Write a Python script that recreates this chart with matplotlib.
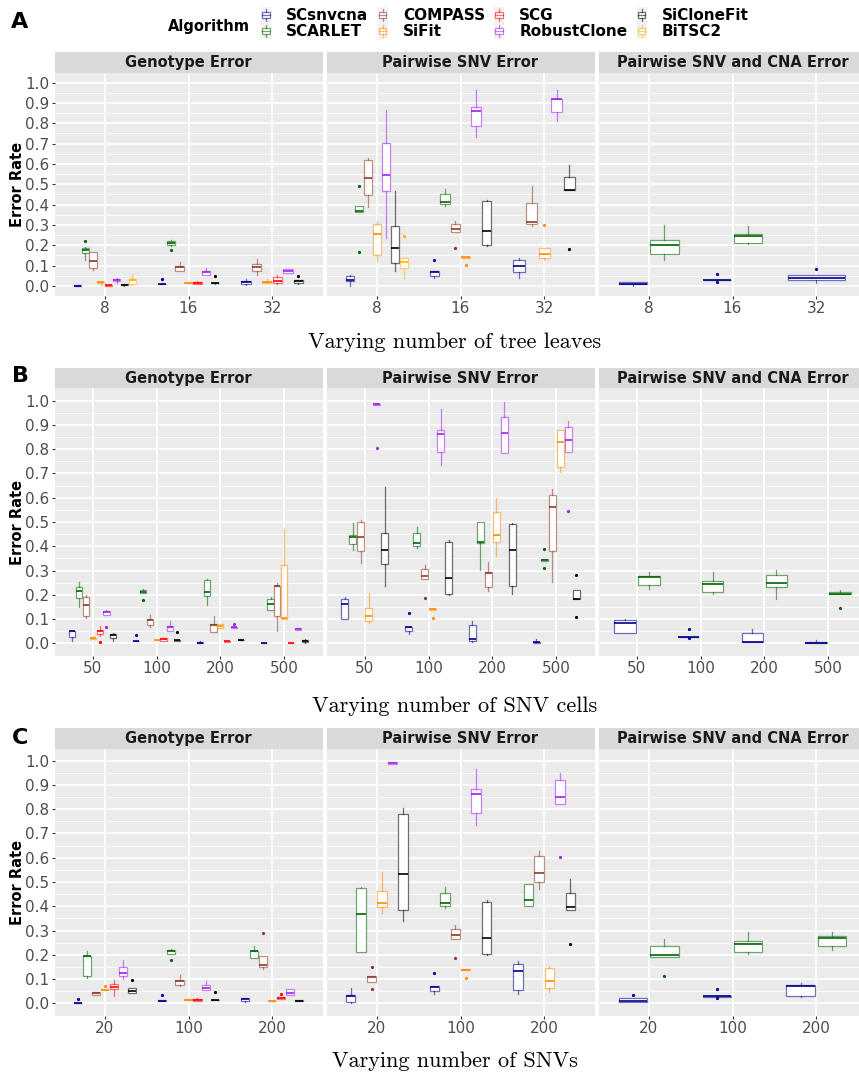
import numpy as np
import matplotlib
matplotlib.use('Agg')
import matplotlib.pyplot as plt
from matplotlib.patches import Rectangle
from matplotlib.lines import Line2D
from matplotlib.legend_handler import HandlerBase
from matplotlib.colors import to_rgba

# =====================================================
# DATA (box statistics)
# (x, algorithm, whisker_low, q1, median, q3, whisker_high, outliers)
# =====================================================
ALGORITHMS = ['SCsnvcna', 'SCARLET', 'COMPASS', 'SiFit', 'SCG',
              'RobustClone', 'SiCloneFit', 'BiTSC2']
FACETS = ['Genotype Error', 'Pairwise SNV Error', 'Pairwise SNV and CNA Error']

leaves = ['8', '16', '32']
cells = ['50', '100', '200', '500']
snvs = ['20', '100', '200']

a_geno = [
    ('8', 'SCsnvcna', 0.0, 0.0, 0.001, 0.002, 0.003, []),
    ('8', 'SCARLET', 0.128, 0.163, 0.178, 0.187, 0.19, [0.223]),
    ('8', 'COMPASS', 0.076, 0.087, 0.122, 0.168, 0.168, []),
    ('8', 'SiFit', 0.005, 0.015, 0.018, 0.02, 0.02, []),
    ('8', 'SCG', 0.0, 0.0, 0.002, 0.005, 0.006, []),
    ('8', 'RobustClone', 0.013, 0.023, 0.03, 0.036, 0.039, []),
    ('8', 'SiCloneFit', 0.001, 0.002, 0.005, 0.008, 0.008, []),
    ('8', 'BiTSC2', 0.005, 0.011, 0.028, 0.036, 0.059, []),
    ('16', 'SCsnvcna', 0.008, 0.009, 0.01, 0.011, 0.012, [0.033]),
    ('16', 'SCARLET', 0.195, 0.2, 0.213, 0.222, 0.225, [0.177]),
    ('16', 'COMPASS', 0.071, 0.074, 0.095, 0.099, 0.118, []),
    ('16', 'SiFit', 0.012, 0.012, 0.013, 0.014, 0.014, []),
    ('16', 'SCG', 0.008, 0.01, 0.015, 0.021, 0.023, []),
    ('16', 'RobustClone', 0.053, 0.053, 0.07, 0.074, 0.09, []),
    ('16', 'SiCloneFit', 0.011, 0.012, 0.013, 0.014, 0.015, [0.046]),
    ('32', 'SCsnvcna', 0.003, 0.007, 0.018, 0.026, 0.036, []),
    ('32', 'COMPASS', 0.054, 0.074, 0.095, 0.108, 0.133, []),
    ('32', 'SiFit', 0.015, 0.016, 0.018, 0.02, 0.033, []),
    ('32', 'SCG', 0.008, 0.013, 0.026, 0.043, 0.054, []),
    ('32', 'RobustClone', 0.062, 0.062, 0.075, 0.082, 0.085, []),
    ('32', 'SiCloneFit', 0.01, 0.015, 0.026, 0.03, 0.03, [0.049]),
]

a_pair = [
    ('8', 'SCsnvcna', 0.0, 0.026, 0.03, 0.048, 0.054, []),
    ('8', 'SCARLET', 0.365, 0.365, 0.368, 0.394, 0.394, [0.49, 0.167]),
    ('8', 'COMPASS', 0.388, 0.447, 0.532, 0.62, 0.629, []),
    ('8', 'SiFit', 0.122, 0.151, 0.256, 0.304, 0.317, []),
    ('8', 'RobustClone', 0.236, 0.468, 0.547, 0.704, 0.867, []),
    ('8', 'SiCloneFit', 0.071, 0.113, 0.187, 0.296, 0.468, []),
    ('8', 'BiTSC2', 0.038, 0.089, 0.117, 0.138, 0.138, [0.246]),
    ('16', 'SCsnvcna', 0.038, 0.049, 0.067, 0.071, 0.071, [0.125]),
    ('16', 'SCARLET', 0.394, 0.401, 0.412, 0.453, 0.478, []),
    ('16', 'COMPASS', 0.264, 0.264, 0.279, 0.305, 0.32, [0.186]),
    ('16', 'SiFit', 0.138, 0.139, 0.14, 0.141, 0.142, [0.103]),
    ('16', 'RobustClone', 0.734, 0.787, 0.862, 0.88, 0.962, []),
    ('16', 'SiCloneFit', 0.195, 0.202, 0.271, 0.417, 0.424, []),
    ('32', 'SCsnvcna', 0.038, 0.069, 0.1, 0.128, 0.136, []),
    ('32', 'COMPASS', 0.294, 0.304, 0.315, 0.409, 0.489, []),
    ('32', 'SiFit', 0.128, 0.138, 0.159, 0.186, 0.186, [0.3]),
    ('32', 'RobustClone', 0.813, 0.855, 0.918, 0.921, 0.962, []),
    ('32', 'SiCloneFit', 0.473, 0.473, 0.473, 0.537, 0.596, [0.179]),
]

a_cna = [
    ('8', 'SCsnvcna', 0.0, 0.008, 0.01, 0.02, 0.02, []),
    ('8', 'SCARLET', 0.128, 0.156, 0.202, 0.227, 0.297, []),
    ('16', 'SCsnvcna', 0.027, 0.027, 0.028, 0.029, 0.029, [0.057, 0.021]),
    ('16', 'SCARLET', 0.204, 0.21, 0.243, 0.256, 0.294, []),
    ('32', 'SCsnvcna', 0.015, 0.03, 0.038, 0.053, 0.053, [0.084]),
]

b_geno = [
    ('50', 'SCsnvcna', 0.01, 0.025, 0.05, 0.052, 0.052, []),
    ('50', 'SCARLET', 0.151, 0.187, 0.216, 0.231, 0.253, []),
    ('50', 'COMPASS', 0.103, 0.114, 0.158, 0.19, 0.2, []),
    ('50', 'SiFit', 0.018, 0.019, 0.022, 0.024, 0.03, []),
    ('50', 'SCG', 0.03, 0.037, 0.049, 0.055, 0.073, [0.007]),
    ('50', 'RobustClone', 0.117, 0.117, 0.128, 0.133, 0.137, [0.069]),
    ('50', 'SiCloneFit', 0.011, 0.021, 0.033, 0.037, 0.044, []),
    ('100', 'SCsnvcna', 0.009, 0.009, 0.01, 0.011, 0.011, [0.033]),
    ('100', 'SCARLET', 0.206, 0.206, 0.213, 0.218, 0.225, [0.179]),
    ('100', 'COMPASS', 0.069, 0.076, 0.096, 0.099, 0.117, []),
    ('100', 'SiFit', 0.013, 0.013, 0.014, 0.015, 0.015, []),
    ('100', 'SCG', 0.008, 0.008, 0.018, 0.021, 0.023, []),
    ('100', 'RobustClone', 0.052, 0.052, 0.066, 0.073, 0.092, []),
    ('100', 'SiCloneFit', 0.011, 0.011, 0.012, 0.013, 0.013, [0.047]),
    ('200', 'SCsnvcna', 0.002, 0.002, 0.003, 0.004, 0.01, []),
    ('200', 'SCARLET', 0.157, 0.194, 0.212, 0.26, 0.264, []),
    ('200', 'COMPASS', 0.047, 0.048, 0.076, 0.078, 0.114, []),
    ('200', 'SiFit', 0.062, 0.062, 0.073, 0.078, 0.078, []),
    ('200', 'SCG', 0.007, 0.007, 0.008, 0.009, 0.009, []),
    ('200', 'RobustClone', 0.062, 0.063, 0.066, 0.068, 0.07, [0.081]),
    ('200', 'SiCloneFit', 0.012, 0.013, 0.014, 0.015, 0.016, []),
    ('500', 'SCsnvcna', 0.0, 0.0, 0.0, 0.001, 0.001, []),
    ('500', 'SCARLET', 0.137, 0.137, 0.161, 0.181, 0.19, []),
    ('500', 'COMPASS', 0.049, 0.114, 0.235, 0.235, 0.25, []),
    ('500', 'SiFit', 0.1, 0.1, 0.106, 0.321, 0.47, []),
    ('500', 'SCG', 0.0, 0.0, 0.0, 0.001, 0.001, []),
    ('500', 'RobustClone', 0.053, 0.053, 0.058, 0.062, 0.062, []),
    ('500', 'SiCloneFit', 0.003, 0.005, 0.01, 0.012, 0.016, []),
]

b_pair = [
    ('50', 'SCsnvcna', 0.1, 0.1, 0.163, 0.181, 0.191, []),
    ('50', 'SCARLET', 0.383, 0.408, 0.44, 0.445, 0.496, []),
    ('50', 'COMPASS', 0.331, 0.379, 0.437, 0.499, 0.508, []),
    ('50', 'SiFit', 0.082, 0.091, 0.111, 0.144, 0.206, []),
    ('50', 'RobustClone', 0.983, 0.983, 0.985, 0.987, 0.992, [0.804]),
    ('50', 'SiCloneFit', 0.238, 0.326, 0.386, 0.455, 0.644, []),
    ('100', 'SCsnvcna', 0.04, 0.051, 0.067, 0.069, 0.069, [0.126]),
    ('100', 'SCARLET', 0.394, 0.402, 0.412, 0.453, 0.481, []),
    ('100', 'COMPASS', 0.265, 0.265, 0.279, 0.305, 0.323, [0.185]),
    ('100', 'SiFit', 0.139, 0.139, 0.14, 0.141, 0.145, [0.104]),
    ('100', 'RobustClone', 0.736, 0.79, 0.863, 0.88, 0.964, []),
    ('100', 'SiCloneFit', 0.198, 0.203, 0.271, 0.416, 0.424, []),
    ('200', 'SCsnvcna', 0.006, 0.011, 0.02, 0.074, 0.091, []),
    ('200', 'SCARLET', 0.301, 0.412, 0.419, 0.5, 0.5, []),
    ('200', 'COMPASS', 0.217, 0.234, 0.291, 0.294, 0.334, []),
    ('200', 'SiFit', 0.361, 0.418, 0.446, 0.541, 0.598, []),
    ('200', 'RobustClone', 0.783, 0.783, 0.868, 0.931, 0.993, []),
    ('200', 'SiCloneFit', 0.202, 0.235, 0.386, 0.493, 0.496, []),
    ('500', 'SCsnvcna', 0.0, 0.002, 0.004, 0.007, 0.019, []),
    ('500', 'SCARLET', 0.339, 0.339, 0.343, 0.348, 0.348, [0.389, 0.31]),
    ('500', 'COMPASS', 0.254, 0.379, 0.562, 0.61, 0.635, []),
    ('500', 'SiFit', 0.707, 0.728, 0.828, 0.88, 0.88, []),
    ('500', 'RobustClone', 0.79, 0.79, 0.839, 0.89, 0.915, [0.547]),
    ('500', 'SiCloneFit', 0.183, 0.183, 0.183, 0.218, 0.218, [0.282, 0.107]),
]

b_cna = [
    ('50', 'SCsnvcna', 0.044, 0.044, 0.082, 0.095, 0.1, []),
    ('50', 'SCARLET', 0.223, 0.242, 0.275, 0.276, 0.294, []),
    ('100', 'SCsnvcna', 0.026, 0.026, 0.027, 0.028, 0.028, [0.058, 0.021]),
    ('100', 'SCARLET', 0.205, 0.21, 0.245, 0.258, 0.294, []),
    ('200', 'SCsnvcna', 0.005, 0.005, 0.005, 0.044, 0.058, []),
    ('200', 'SCARLET', 0.184, 0.231, 0.25, 0.28, 0.301, []),
    ('500', 'SCsnvcna', 0.0, 0.0, 0.002, 0.004, 0.012, []),
    ('500', 'SCARLET', 0.202, 0.202, 0.202, 0.213, 0.22, [0.146]),
]

c_geno = [
    ('20', 'SCsnvcna', 0.0, 0.0, 0.0, 0.001, 0.001, [0.016]),
    ('20', 'SCARLET', 0.104, 0.111, 0.196, 0.196, 0.214, []),
    ('20', 'COMPASS', 0.034, 0.034, 0.043, 0.045, 0.045, []),
    ('20', 'SiFit', 0.054, 0.054, 0.055, 0.057, 0.057, [0.073]),
    ('20', 'SCG', 0.03, 0.058, 0.069, 0.08, 0.096, []),
    ('20', 'RobustClone', 0.099, 0.111, 0.125, 0.151, 0.177, []),
    ('20', 'SiCloneFit', 0.041, 0.041, 0.052, 0.062, 0.062, [0.095]),
    ('100', 'SCsnvcna', 0.01, 0.01, 0.011, 0.012, 0.012, [0.033]),
    ('100', 'SCARLET', 0.205, 0.205, 0.214, 0.22, 0.225, [0.177]),
    ('100', 'COMPASS', 0.072, 0.074, 0.092, 0.098, 0.117, []),
    ('100', 'SiFit', 0.014, 0.014, 0.015, 0.016, 0.016, []),
    ('100', 'SCG', 0.008, 0.008, 0.014, 0.02, 0.023, []),
    ('100', 'RobustClone', 0.055, 0.055, 0.063, 0.076, 0.092, []),
    ('100', 'SiCloneFit', 0.013, 0.013, 0.014, 0.015, 0.015, [0.045]),
    ('200', 'SCsnvcna', 0.005, 0.008, 0.019, 0.023, 0.023, []),
    ('200', 'SCARLET', 0.186, 0.188, 0.214, 0.214, 0.236, []),
    ('200', 'COMPASS', 0.141, 0.151, 0.158, 0.196, 0.196, [0.29]),
    ('200', 'SiFit', 0.008, 0.008, 0.008, 0.009, 0.009, []),
    ('200', 'SCG', 0.017, 0.017, 0.021, 0.025, 0.025, [0.037]),
    ('200', 'RobustClone', 0.036, 0.036, 0.044, 0.058, 0.058, []),
    ('200', 'SiCloneFit', 0.01, 0.011, 0.011, 0.012, 0.012, []),
]

c_pair = [
    ('20', 'SCsnvcna', 0.0, 0.005, 0.029, 0.034, 0.062, []),
    ('20', 'SCARLET', 0.21, 0.21, 0.367, 0.474, 0.481, []),
    ('20', 'COMPASS', 0.089, 0.089, 0.109, 0.113, 0.113, [0.148, 0.058]),
    ('20', 'SiFit', 0.374, 0.396, 0.412, 0.462, 0.541, []),
    ('20', 'RobustClone', 0.985, 0.987, 0.99, 0.993, 0.995, []),
    ('20', 'SiCloneFit', 0.341, 0.385, 0.533, 0.782, 0.806, []),
    ('100', 'SCsnvcna', 0.038, 0.051, 0.069, 0.07, 0.07, [0.126]),
    ('100', 'SCARLET', 0.394, 0.402, 0.412, 0.453, 0.481, []),
    ('100', 'COMPASS', 0.265, 0.265, 0.28, 0.306, 0.323, [0.185]),
    ('100', 'SiFit', 0.138, 0.138, 0.139, 0.141, 0.141, [0.104]),
    ('100', 'RobustClone', 0.736, 0.786, 0.863, 0.882, 0.966, []),
    ('100', 'SiCloneFit', 0.199, 0.202, 0.271, 0.418, 0.424, []),
    ('200', 'SCsnvcna', 0.038, 0.054, 0.132, 0.161, 0.176, []),
    ('200', 'SCARLET', 0.402, 0.402, 0.426, 0.493, 0.493, []),
    ('200', 'COMPASS', 0.471, 0.501, 0.538, 0.607, 0.628, []),
    ('200', 'SiFit', 0.048, 0.065, 0.092, 0.146, 0.154, []),
    ('200', 'RobustClone', 0.823, 0.823, 0.85, 0.919, 0.948, [0.603]),
    ('200', 'SiCloneFit', 0.386, 0.386, 0.397, 0.453, 0.512, [0.245]),
]

c_cna = [
    ('20', 'SCsnvcna', 0.007, 0.007, 0.011, 0.021, 0.021, [0.036]),
    ('20', 'SCARLET', 0.192, 0.192, 0.199, 0.235, 0.265, [0.114]),
    ('100', 'SCsnvcna', 0.028, 0.028, 0.029, 0.03, 0.03, [0.058, 0.023]),
    ('100', 'SCARLET', 0.205, 0.21, 0.245, 0.258, 0.294, []),
    ('200', 'SCsnvcna', 0.026, 0.029, 0.073, 0.074, 0.082, []),
    ('200', 'SCARLET', 0.22, 0.235, 0.268, 0.276, 0.294, []),
]

# =====================================================
# ESTILO
# =====================================================
COLORS = {
    'SCsnvcna': '#00008B', 'SCARLET': '#006400', 'COMPASS': '#8B3A2A',
    'SiFit': '#FF8C00', 'SCG': '#FF0000', 'RobustClone': '#A020F0',
    'SiCloneFit': '#000000', 'BiTSC2': '#FFB000',
}
LIGHT_ALPHA = 0.55

W, H = 859, 1076
fig = plt.figure(figsize=(W / 100, H / 100), dpi=100)

COLS = [(54.5, 322.5), (326.5, 594.5), (598.5, 866.5)]
ROWS = [
    dict(cats=leaves, data=[a_geno, a_pair, a_cna], top=72.5, bot=296.0, tag='A',
         tag_y=22, xlabel='Varying number of tree leaves', xl_y=348),
    dict(cats=cells, data=[b_geno, b_pair, b_cna], top=388.5, bot=655.5, tag='B',
         tag_y=376.5, xlabel='Varying number of SNV cells', xl_y=712),
    dict(cats=snvs, data=[c_geno, c_pair, c_cna], top=748.5, bot=1015.5, tag='C',
         tag_y=738.5, xlabel='Varying number of SNVs', xl_y=1067),
]
STRIP_H = 20.5


def px_axes(x0, y0, x1, y1):
    return fig.add_axes([x0 / W, 1 - y1 / H, (x1 - x0) / W, (y1 - y0) / H])


def draw_panel(ax, cats, rows):
    ax.set_facecolor('#EBEBEB')
    for i, cat in enumerate(cats):
        grp = sorted([r for r in rows if r[0] == cat], key=lambda r: ALGORITHMS.index(r[1]))
        n = len(grp)
        slot = 0.75 / n
        for j, r in enumerate(grp):
            pos = i + 1 - 0.375 + slot * (j + 0.5)
            c = COLORS[r[1]]
            light = to_rgba(c, LIGHT_ALPHA)
            stats = dict(whislo=r[2], q1=r[3], med=r[4], q3=r[5], whishi=r[6], fliers=r[7])
            ax.bxp([stats], positions=[pos], widths=slot * 0.9, patch_artist=True,
                   showcaps=False, manage_ticks=False,
                   boxprops=dict(facecolor='white', edgecolor=light, linewidth=0.9),
                   whiskerprops=dict(color=light, linewidth=0.9),
                   medianprops=dict(color=c, linewidth=1.2),
                   flierprops=dict(marker='o', markersize=2.3, markerfacecolor=c,
                                   markeredgecolor='none'))
    ax.set_xlim(0.4, len(cats) + 0.6)
    ax.set_ylim(-0.05, 1.05)
    ax.set_xticks(np.arange(1, len(cats) + 1))
    ax.set_xticklabels(cats)
    ax.set_yticks(np.round(np.arange(0, 1.01, 0.1), 1))
    ax.set_yticks(np.arange(0.05, 1.0, 0.1), minor=True)
    ax.set_axisbelow(True)
    ax.grid(which='major', color='white', linewidth=1.2)
    ax.grid(which='minor', axis='y', color='white', linewidth=0.6)
    for s in ax.spines.values():
        s.set_visible(False)
    ax.tick_params(which='minor', length=0)
    ax.tick_params(which='major', length=2.5, width=0.8, color='#333333',
                   labelsize=11, labelcolor='#4D4D4D', pad=1.2)


for row in ROWS:
    for k, (x0, x1) in enumerate(COLS):
        ax = px_axes(x0, row['top'], x1, row['bot'])
        draw_panel(ax, row['cats'], row['data'][k])
        ax.set_yticklabels(['%.1f' % v for v in np.arange(0, 1.01, 0.1)])
        if k > 0:
            ax.tick_params(axis='y', left=False, labelleft=False)
        # strip
        fig.add_artist(Rectangle((x0 / W, 1 - row['top'] / H), (x1 - x0) / W, STRIP_H / H,
                                 transform=fig.transFigure, facecolor='#D9D9D9',
                                 edgecolor='none'))
        fig.text((x0 + x1) / 2 / W, 1 - (row['top'] - STRIP_H / 2) / H, FACETS[k],
                 ha='center', va='center', fontsize=10.5, fontweight='bold', color='#1A1A1A')
    fig.text(17.5 / W, 1 - (row['top'] + row['bot']) / 2 / H, 'Error Rate', rotation=90,
             ha='center', va='center', fontsize=10.5, fontweight='bold', color='black')
    fig.text(20 / W, 1 - row['tag_y'] / H, row['tag'], ha='center', va='center',
             fontsize=16, fontweight='bold')
    fig.text(455 / W, 1 - row['xl_y'] / H, row['xlabel'], ha='center', va='baseline',
             fontsize=16, family='cmr10')


# =====================================================
# LEYENDA
# =====================================================
class BoxKey(HandlerBase):
    def create_artists(self, legend, orig_handle, xd, yd, width, height, fontsize, trans):
        c = orig_handle.get_color()
        light = to_rgba(c, LIGHT_ALPHA)
        x0, y0 = -xd, -yd
        cx = x0 + width / 2
        bg = Rectangle((x0, y0 - 1), width, height + 2, facecolor='#F2F2F2',
                       edgecolor='none', transform=trans)
        box = Rectangle((x0 + width * 0.12, y0 + height * 0.28), width * 0.76, height * 0.44,
                        facecolor='white', edgecolor=light, linewidth=0.9, transform=trans)
        med = Line2D([x0 + width * 0.12, x0 + width * 0.88], [y0 + height * 0.5] * 2,
                     color=light, linewidth=0.9, transform=trans)
        w1 = Line2D([cx, cx], [y0 + height * 0.05, y0 + height * 0.28], color=light,
                    linewidth=0.9, transform=trans)
        w2 = Line2D([cx, cx], [y0 + height * 0.72, y0 + height * 0.95], color=light,
                    linewidth=0.9, transform=trans)
        return [bg, box, med, w1, w2]


handles = [Line2D([], [], color=COLORS[a]) for a in ALGORITHMS]
fig.legend(handles, ALGORITHMS, ncol=4, loc='upper left',
           bbox_to_anchor=(261 / W, 1 - 8 / H), frameon=False,
           handler_map={Line2D: BoxKey()}, prop={'weight': 'bold', 'size': 11},
           handlelength=0.65, handleheight=1.0, handletextpad=1.0,
           columnspacing=0.6, labelspacing=0.05, borderpad=0, borderaxespad=0)
fig.text(168 / W, 1 - 26.5 / H, 'Algorithm', ha='left', va='center', fontsize=10.5,
         fontweight='bold')

plt.savefig('out.png', dpi=100)
